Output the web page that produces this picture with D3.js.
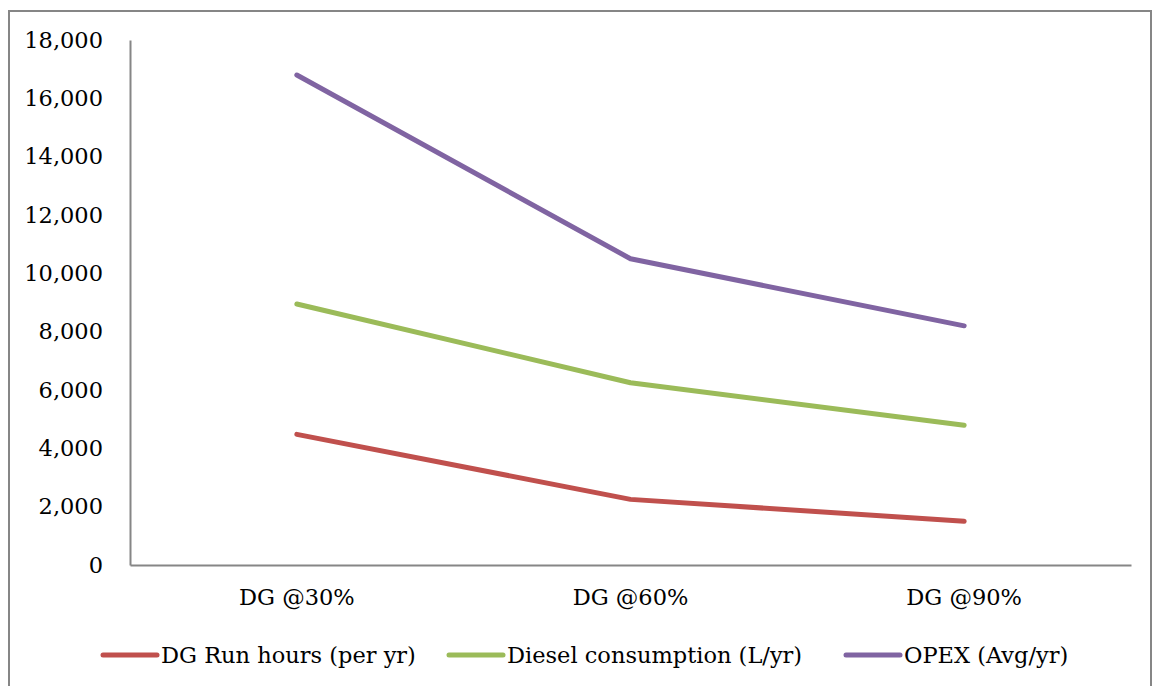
<!DOCTYPE html>
<html>
<head>
<meta charset="utf-8">
<script src="https://cdn.jsdelivr.net/npm/d3@7"></script>
<style>
  html, body { margin: 0; padding: 0; background: #fff; }
  svg { display: block; }
  text { font-family: "DejaVu Serif", "Liberation Serif", serif; fill: #000; }
</style>
</head>
<body>
<svg id="chart" width="1154" height="686"></svg>
<script>
// Scenario categories on the x axis
const categories = ["DG @30%", "DG @60%", "DG @90%"];

// Series values per scenario
const runHours = [4480, 2250, 1500];
const dieselLitres = [8950, 6250, 4790];
const opex = [16800, 10500, 8200];

const seriesNames = ["DG Run hours (per yr)", "Diesel consumption (L/yr)", "OPEX (Avg/yr)"];
const seriesColors = ["#C0504D", "#9BBB59", "#8064A2"];

// Y axis ticks
const yTicks = [0, 2000, 4000, 6000, 8000, 10000, 12000, 14000, 16000, 18000];

const series = [runHours, dieselLitres, opex].map((values, i) => ({
  name: seriesNames[i],
  color: seriesColors[i],
  values
}));

const svg = d3.select("#chart");
const plot = { left: 130, right: 1131, top: 40, bottom: 565 };
const axisColor = "#868686";
const fontSize = 22.5;

// Outer chart frame
svg.append("rect")
  .attr("x", 9).attr("y", 11)
  .attr("width", 1142).attr("height", 690)
  .attr("fill", "none")
  .attr("stroke", axisColor)
  .attr("stroke-width", 2);

const x = d3.scaleBand().domain(categories).range([plot.left, plot.right]);
const y = d3.scaleLinear().domain([0, 18000]).range([plot.bottom, plot.top]);

// Y axis
const yAxis = svg.append("g")
  .attr("transform", `translate(${plot.left},0)`)
  .call(d3.axisLeft(y).tickValues(yTicks).tickFormat(d3.format(",")).tickSize(0).tickPadding(27));
yAxis.select(".domain").attr("stroke", axisColor).attr("stroke-width", 2);
yAxis.selectAll("text")
  .style("font-family", '"DejaVu Serif", serif')
  .style("font-size", fontSize + "px")
  .attr("fill", "#000");

// X axis
const xAxis = svg.append("g")
  .attr("transform", `translate(0,${plot.bottom})`)
  .call(d3.axisBottom(x).tickSize(0).tickPadding(24));
xAxis.select(".domain").attr("stroke", axisColor).attr("stroke-width", 2);
xAxis.selectAll("text")
  .style("font-family", '"DejaVu Serif", serif')
  .style("font-size", fontSize + "px")
  .attr("fill", "#000");

// Series lines
const line = d3.line()
  .x((d, i) => x(categories[i]) + x.bandwidth() / 2)
  .y(d => y(d));

svg.append("g").selectAll("path")
  .data(series)
  .join("path")
  .attr("d", d => line(d.values))
  .attr("fill", "none")
  .attr("stroke", d => d.color)
  .attr("stroke-width", 5)
  .attr("stroke-linecap", "round")
  .attr("stroke-linejoin", "round");

// Legend
const legendY = 655;
const legendX = [103, 449, 846];
const legend = svg.append("g").selectAll("g")
  .data(series)
  .join("g")
  .attr("transform", (d, i) => `translate(${legendX[i]},${legendY})`);
legend.append("line")
  .attr("x1", 0).attr("x2", 54)
  .attr("y1", 0).attr("y2", 0)
  .attr("stroke", d => d.color)
  .attr("stroke-width", 5)
  .attr("stroke-linecap", "round");
legend.append("text")
  .attr("x", 58)
  .attr("dy", "0.35em")
  .style("font-size", fontSize + "px")
  .text(d => d.name);
</script>
</body>
</html>
